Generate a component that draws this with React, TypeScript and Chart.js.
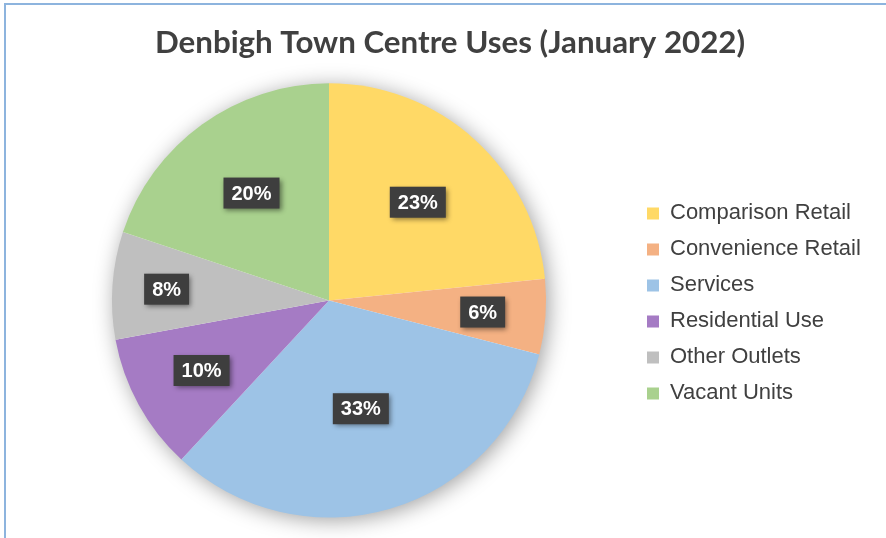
import React, { useEffect, useRef } from "react";
import { Chart, registerables } from "chart.js";

Chart.register(...registerables);

const titleText = "Denbigh Town Centre Uses (January 2022)";
const categories = [
  "Comparison Retail",
  "Convenience Retail",
  "Services",
  "Residential Use",
  "Other Outlets",
  "Vacant Units",
];
const shares = [23.4, 5.6, 32.9, 10.2, 8.0, 19.9];
const sliceColors = ["#FFD966", "#F4B183", "#9DC3E6", "#A57BC4", "#BFBFBF", "#A9D18E"];
const labelRadius = [0.61, 0.71, 0.52, 0.67, 0.75, 0.61];

const legendWidthPlugin = {
  id: "legendWidth",
  beforeLayout(chart: any) {
    const legend = chart.legend;
    if (legend && !legend.__patched) {
      const fit = legend.fit;
      legend.fit = function () {
        fit.call(this);
        if (this.isHorizontal && !this.isHorizontal()) this.width = 242;
      };
      legend.__patched = true;
    }
  },
};

const pieShadowPlugin = {
  id: "pieShadow",
  beforeDatasetsDraw(chart: any) {
    const meta = chart.getDatasetMeta(0);
    const arc = meta.data[0];
    if (!arc) return;
    const { x, y, outerRadius } = arc.getProps(["x", "y", "outerRadius"], true);
    const ctx = chart.ctx;
    ctx.save();
    ctx.shadowColor = "rgba(0,0,0,0.4)";
    ctx.shadowBlur = 22;
    ctx.shadowOffsetX = 3;
    ctx.shadowOffsetY = 3;
    ctx.beginPath();
    ctx.arc(x, y, outerRadius - 1, 0, Math.PI * 2);
    ctx.fillStyle = "#ffffff";
    ctx.fill();
    ctx.restore();
  },
};

const dataLabelPlugin = {
  id: "boxLabels",
  afterDatasetsDraw(chart: any) {
    const meta = chart.getDatasetMeta(0);
    const values: number[] = chart.data.datasets[0].data;
    const total = values.reduce((a, b) => a + b, 0);
    const ctx = chart.ctx;
    ctx.save();
    ctx.font = "bold 20px 'Liberation Sans', Arial, sans-serif";
    ctx.textAlign = "center";
    ctx.textBaseline = "middle";
    meta.data.forEach((arc: any, i: number) => {
      const { x, y, startAngle, endAngle, outerRadius } = arc.getProps(
        ["x", "y", "startAngle", "endAngle", "outerRadius"],
        true
      );
      const mid = (startAngle + endAngle) / 2;
      const r = outerRadius * labelRadius[i];
      const px = x + Math.cos(mid) * r;
      const py = y + Math.sin(mid) * r;
      const text = Math.round((values[i] / total) * 100) + "%";
      const w = ctx.measureText(text).width + 16;
      const h = 31;
      ctx.save();
      ctx.shadowColor = "rgba(0,0,0,0.45)";
      ctx.shadowBlur = 5;
      ctx.shadowOffsetX = 2;
      ctx.shadowOffsetY = 2;
      ctx.fillStyle = "#3E3E3E";
      ctx.fillRect(px - w / 2, py - h / 2, w, h);
      ctx.restore();
      ctx.fillStyle = "#FFFFFF";
      ctx.fillText(text, px, py + 1);
    });
    ctx.restore();
  },
};

export default function App() {
  const canvasRef = useRef<HTMLCanvasElement | null>(null);

  useEffect(() => {
    if (!canvasRef.current) return;
    const chart = new Chart(canvasRef.current, {
      type: "pie",
      data: {
        labels: categories,
        datasets: [
          {
            data: shares,
            backgroundColor: sliceColors,
            borderWidth: 0,
            hoverOffset: 0,
          },
        ],
      },
      options: {
        animation: false,
        responsive: false,
        devicePixelRatio: 1,
        layout: { padding: { left: 25, right: 11, top: 0, bottom: 20.5 } },
        plugins: {
          title: {
            display: true,
            text: titleText,
            color: "#404040",
            font: { family: "Lato", weight: "bold", size: 31.3, lineHeight: 1.2 },
            padding: { top: 24, bottom: 21.8 },
          },
          legend: {
            display: true,
            position: "right",
            align: "center",
            fullSize: false,
            title: { display: true, text: "", font: { size: 1, lineHeight: 1.2 }, padding: 2.4 },
            labels: {
              color: "#404040",
              font: { family: "'Liberation Sans', Arial, sans-serif", size: 22 },
              boxWidth: 12,
              boxHeight: 12,
              padding: 14,
            },
          },
          tooltip: { enabled: false },
        },
      },
      plugins: [legendWidthPlugin, pieShadowPlugin, dataLabelPlugin],
    } as any);
    return () => chart.destroy();
  }, []);

  return (
    <div
      style={{
        position: "fixed",
        left: 0,
        top: 0,
        width: 886,
        height: 538,
        overflow: "hidden",
        background: "#ffffff",
      }}
    >
      <div
        style={{
          position: "absolute",
          left: 4,
          top: 3,
          width: 2000,
          height: 2000,
          border: "2px solid #8DB4DE",
        }}
      />
      <canvas
        ref={canvasRef}
        width={886}
        height={538}
        style={{ position: "absolute", left: 0, top: 0, width: 886, height: 538 }}
      />
    </div>
  );
}
